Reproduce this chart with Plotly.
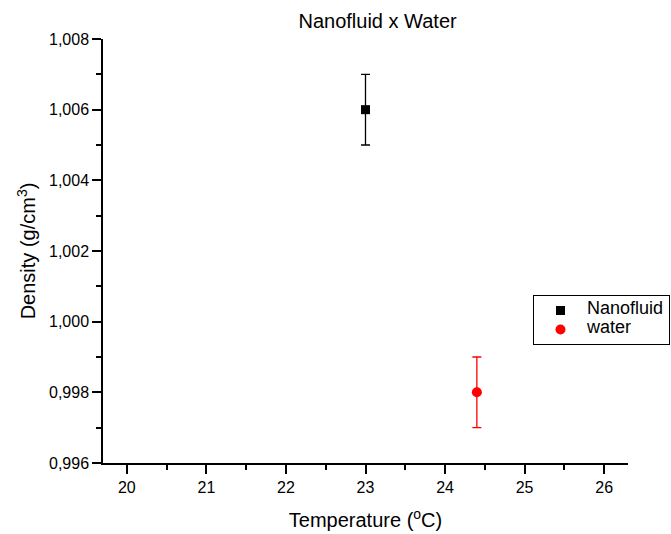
import plotly.graph_objects as go

# Data
nano_T = [23.0]
nano_rho = [1.006]
nano_err = [0.001]

water_T = [24.4]
water_rho = [0.998]
water_err = [0.001]

x_ticks = [20, 21, 22, 23, 24, 25, 26]
y_ticks = [0.996, 0.998, 1.000, 1.002, 1.004, 1.006, 1.008]

FONT = "Liberation Sans, Arial, sans-serif"

def big(s):
    return '<span style="font-size:18px">' + s + '</span>'

fig = go.Figure()
fig.add_trace(go.Scatter(
    x=nano_T, y=nano_rho, mode="markers", name=big("Nanofluid"),
    marker=dict(symbol="square", size=9, color="black"),
    error_y=dict(type="data", array=nano_err, visible=True, color="black",
                 thickness=1.3, width=4.5),
))
fig.add_trace(go.Scatter(
    x=water_T, y=water_rho, mode="markers", name=big("water"),
    marker=dict(symbol="circle", size=10, color="red"),
    error_y=dict(type="data", array=water_err, visible=True, color="red",
                 thickness=1.3, width=4.5),
))

fig.update_layout(
    width=671, height=534,
    margin=dict(l=103, r=43, t=39, b=71, autoexpand=False),
    paper_bgcolor="white", plot_bgcolor="white",
    separators=",.",
    font=dict(family=FONT, size=16, color="black"),
    title=dict(text="Nanofluid x Water", x=0.523, xref="paper", xanchor="center",
               y=1 - 21 / 534, yref="container", yanchor="middle",
               font=dict(family=FONT, size=20, color="black")),
    showlegend=True,
    legend=dict(x=533 / 671, y=1 - 320 / 534, xref="container", yref="container",
                xanchor="left", yanchor="middle",
                bordercolor="black", borderwidth=1, bgcolor="white",
                font=dict(family=FONT, size=10, color="black"),
                tracegroupgap=0, itemwidth=43),
)

fig.update_xaxes(
    range=[19.7, 26.3], tickvals=x_ticks, ticktext=[str(v) for v in x_ticks],
    showline=True, linecolor="black", linewidth=1.5, mirror=False,
    ticks="outside", ticklen=9, tickwidth=1.5, tickcolor="black",
    showgrid=False, zeroline=False, automargin=False,
    tickfont=dict(family=FONT, size=16, color="black"),
    minor=dict(dtick=0.5, tick0=19.5, ticks="outside", ticklen=5, tickwidth=1.5, tickcolor="black", showgrid=False),
    title=dict(text="Temperature (<sup>o</sup>C)", standoff=18,
               font=dict(family=FONT, size=20, color="black")),
)
fig.update_yaxes(
    range=[0.996, 1.008], tickvals=y_ticks, tickformat=".3f",
    showline=True, linecolor="black", linewidth=1.5, mirror=False,
    ticks="outside", ticklen=9, tickwidth=1.5, tickcolor="black",
    showgrid=False, zeroline=False, automargin=False,
    tickfont=dict(family=FONT, size=16, color="black"),
    minor=dict(dtick=0.001, tick0=0.995, ticks="outside", ticklen=5, tickwidth=1.5, tickcolor="black", showgrid=False),
    title=dict(text="Density (g/cm<sup>3</sup>)", standoff=8,
               font=dict(family=FONT, size=20, color="black")),
)

fig.write_html("out.html")
